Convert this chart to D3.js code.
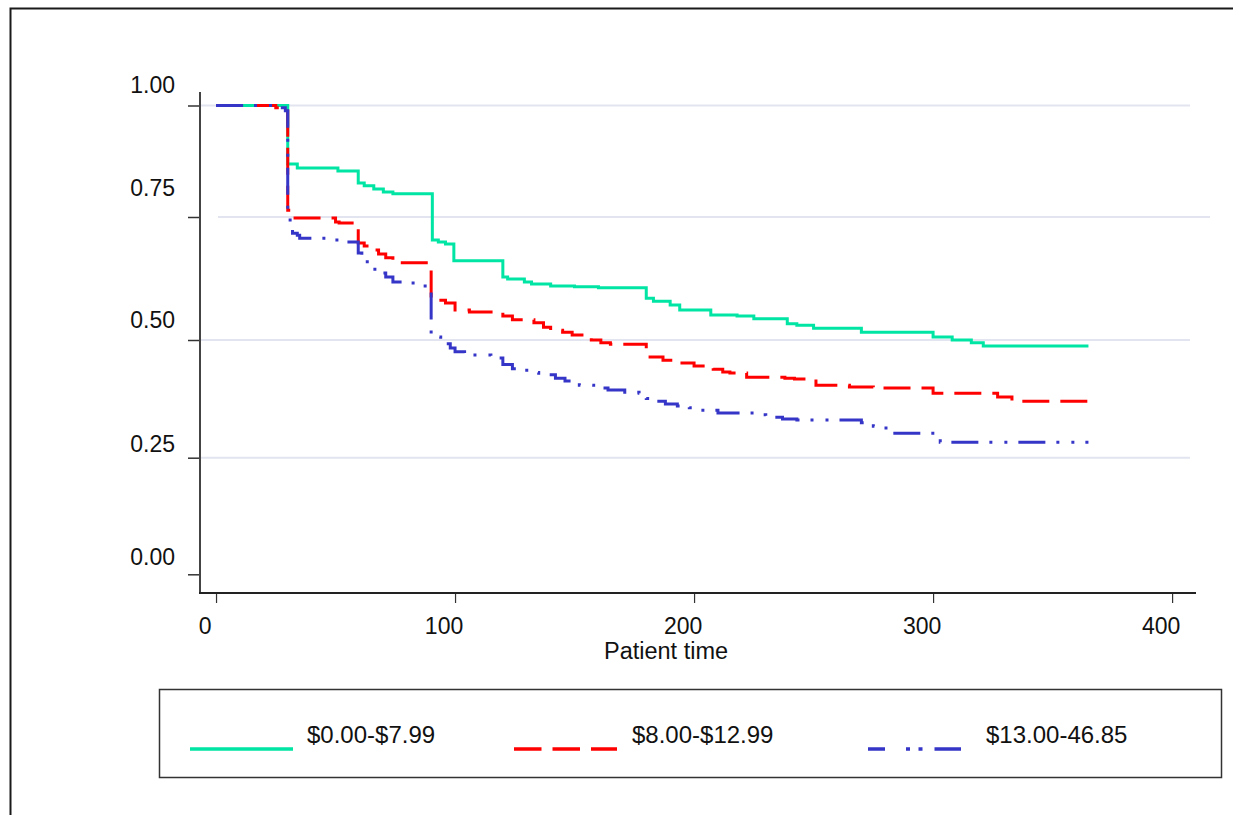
<!DOCTYPE html>
<html>
<head>
<meta charset="utf-8">
<script src="https://cdn.jsdelivr.net/npm/d3@7"></script>
<style>
  html, body { margin: 0; padding: 0; background: #fff; }
  svg { display: block; font-family: "Liberation Sans", Arial, sans-serif; }
</style>
</head>
<body>
<svg id="chart" width="1233" height="815"></svg>
<script>
// ---------------- data ----------------
const groups = ["$0.00-$7.99", "$8.00-$12.99", "$13.00-46.85"];
const xTicks = [0, 100, 200, 300, 400];
const yTicks = [0, 0.25, 0.5, 0.75, 1];
const yTickLabels = ["0.00", "0.25", "0.50", "0.75", "1.00"];
const xTitle = "Patient time";

const lowTime = [0, 30, 34, 51, 59.5, 62, 66, 70, 74, 90.5, 93, 96, 99.5, 120, 122, 129, 132, 140, 150, 160, 180, 183, 190, 194, 207, 218, 225, 239, 243, 250, 270, 300, 308, 316, 321, 365];
const lowSurv = [1.000, 0.869, 0.860, 0.853, 0.826, 0.820, 0.813, 0.806, 0.802, 0.703, 0.699, 0.695, 0.661, 0.628, 0.624, 0.618, 0.614, 0.610, 0.608, 0.606, 0.585, 0.579, 0.571, 0.561, 0.551, 0.549, 0.543, 0.533, 0.530, 0.524, 0.516, 0.506, 0.500, 0.494, 0.487, 0.487];

const midTime = [0, 25, 30, 32, 50, 51.5, 59.5, 62, 66, 68, 71, 74, 90, 96, 100, 106, 120, 124, 133, 137, 140, 145, 149, 157, 161, 165, 180, 187, 194, 200, 208, 212, 215, 222, 238, 242, 251, 265, 275, 300, 327, 333, 365];
const midSurv = [1.000, 0.995, 0.765, 0.748, 0.740, 0.738, 0.697, 0.691, 0.683, 0.675, 0.667, 0.657, 0.581, 0.575, 0.561, 0.557, 0.549, 0.541, 0.535, 0.526, 0.520, 0.516, 0.510, 0.500, 0.494, 0.491, 0.464, 0.457, 0.451, 0.445, 0.438, 0.432, 0.430, 0.421, 0.419, 0.417, 0.404, 0.400, 0.398, 0.387, 0.379, 0.370, 0.370];

const highTime = [0, 27, 29, 30, 31, 32, 34, 35, 48, 53, 59.5, 61, 64, 68, 71, 74, 79, 85, 90, 94, 96, 98, 100, 104, 115, 120, 124, 130, 135, 142, 146, 152, 158, 164, 171, 177, 180, 184, 188, 193, 198, 203, 210, 226, 230, 237, 243, 270, 275, 279, 281, 303, 365];
const highSurv = [1.000, 0.995, 0.988, 0.748, 0.724, 0.717, 0.713, 0.707, 0.703, 0.699, 0.677, 0.659, 0.644, 0.636, 0.628, 0.618, 0.616, 0.610, 0.506, 0.500, 0.492, 0.483, 0.475, 0.468, 0.462, 0.448, 0.439, 0.431, 0.426, 0.419, 0.413, 0.404, 0.398, 0.394, 0.389, 0.387, 0.376, 0.370, 0.364, 0.360, 0.356, 0.351, 0.345, 0.341, 0.336, 0.332, 0.330, 0.324, 0.317, 0.313, 0.302, 0.283, 0.283];

// ---------------- layout / style ----------------
const colors = ["#00e5a3", "#ff0000", "#3535c8"];
const dashes = [null, "27,11", "27,11,3,12,3,11"];
const legendDashes = [null, "27.5,11", "17,21,4,8.5,4,12,40"];

const svg = d3.select("#chart");

// outer frame (extends beyond the picture on right and bottom)
svg.append("rect")
  .attr("x", 10.5).attr("y", 8.5)
  .attr("width", 1300).attr("height", 900)
  .attr("fill", "none").attr("stroke", "#1a1a1a").attr("stroke-width", 2);

const x = d3.scaleLinear().domain([-7, 410]).range([199.3, 1196]);
const y = d3.scaleLinear().domain(yTicks).range([574.3, 457.7, 340, 217, 105.5]);
const yLabelPos = d3.scaleLinear().domain(yTicks).range([565, 452, 328, 196, 93]);

// gridlines (1.00, 0.75, 0.50, 0.25)
svg.append("g").selectAll("line")
  .data(yTicks.filter(d => d > 0))
  .join("line")
  .attr("x1", d => d === 0.75 ? 218 : 200)
  .attr("x2", d => d === 0.75 ? 1210 : 1190)
  .attr("y1", d => y(d)).attr("y2", d => y(d))
  .attr("stroke", "#e2e5ef").attr("stroke-width", 2);

// y axis
const yAxis = d3.axisLeft(y).tickValues(yTicks).tickSize(12).tickFormat("");
const gy = svg.append("g").attr("transform", "translate(200,0)").call(yAxis);
gy.select(".domain").remove();
gy.selectAll(".tick line").attr("stroke", "#333").attr("stroke-width", 1.5);
svg.append("line").attr("x1", 200).attr("x2", 200).attr("y1", 92).attr("y2", 593)
  .attr("stroke", "#444").attr("stroke-width", 2);
svg.append("g").selectAll("text")
  .data(yTicks).join("text")
  .attr("x", 175).attr("y", d => yLabelPos(d))
  .attr("text-anchor", "end").attr("font-size", 23).attr("fill", "#111")
  .text((d, i) => yTickLabels[i]);

// x axis
const xAxis = d3.axisBottom(x).tickValues(xTicks).tickSize(10).tickFormat("");
const gx = svg.append("g").attr("transform", "translate(0,593)").call(xAxis);
gx.select(".domain").remove();
gx.selectAll(".tick line").attr("stroke", "#333").attr("stroke-width", 1.2);
svg.append("line").attr("x1", 199).attr("x2", 1196).attr("y1", 593).attr("y2", 593)
  .attr("stroke", "#222").attr("stroke-width", 2);
svg.append("g").selectAll("text")
  .data(xTicks).join("text")
  .attr("x", d => x(d) - 11).attr("y", 634)
  .attr("text-anchor", "middle").attr("font-size", 23).attr("fill", "#111")
  .text(d => d);
svg.append("text").attr("x", 666).attr("y", 659)
  .attr("text-anchor", "middle").attr("font-size", 23.5).attr("fill", "#111")
  .text(xTitle);

// survival curves
const series = [
  { t: lowTime, s: lowSurv },
  { t: midTime, s: midSurv },
  { t: highTime, s: highSurv }
];
const line = d3.line().x(d => x(d[0])).y(d => y(d[1])).curve(d3.curveStepAfter);
series.forEach((ser, i) => {
  const pts = ser.t.map((t, k) => [t, ser.s[k]]);
  svg.append("path")
    .attr("d", line(pts))
    .attr("fill", "none")
    .attr("stroke", colors[i])
    .attr("stroke-width", 3)
    .attr("stroke-dasharray", dashes[i])
    .attr("stroke-linejoin", "miter");
});

// legend
svg.append("rect").attr("x", 159.5).attr("y", 689.5).attr("width", 1062).attr("height", 88)
  .attr("fill", "#fff").attr("stroke", "#333").attr("stroke-width", 1.5);
const legX = [190, 514, 868];
const legLen = [103, 103, 93];
const legTextX = [307, 632, 986];
groups.forEach((g, i) => {
  svg.append("line")
    .attr("x1", legX[i]).attr("x2", legX[i] + legLen[i])
    .attr("y1", 749).attr("y2", 749)
    .attr("stroke", colors[i]).attr("stroke-width", 3.5)
    .attr("stroke-dasharray", legendDashes[i]);
  svg.append("text").attr("x", legTextX[i]).attr("y", 743)
    .attr("font-size", 24).attr("fill", "#111").text(g);
});
</script>
</body>
</html>
